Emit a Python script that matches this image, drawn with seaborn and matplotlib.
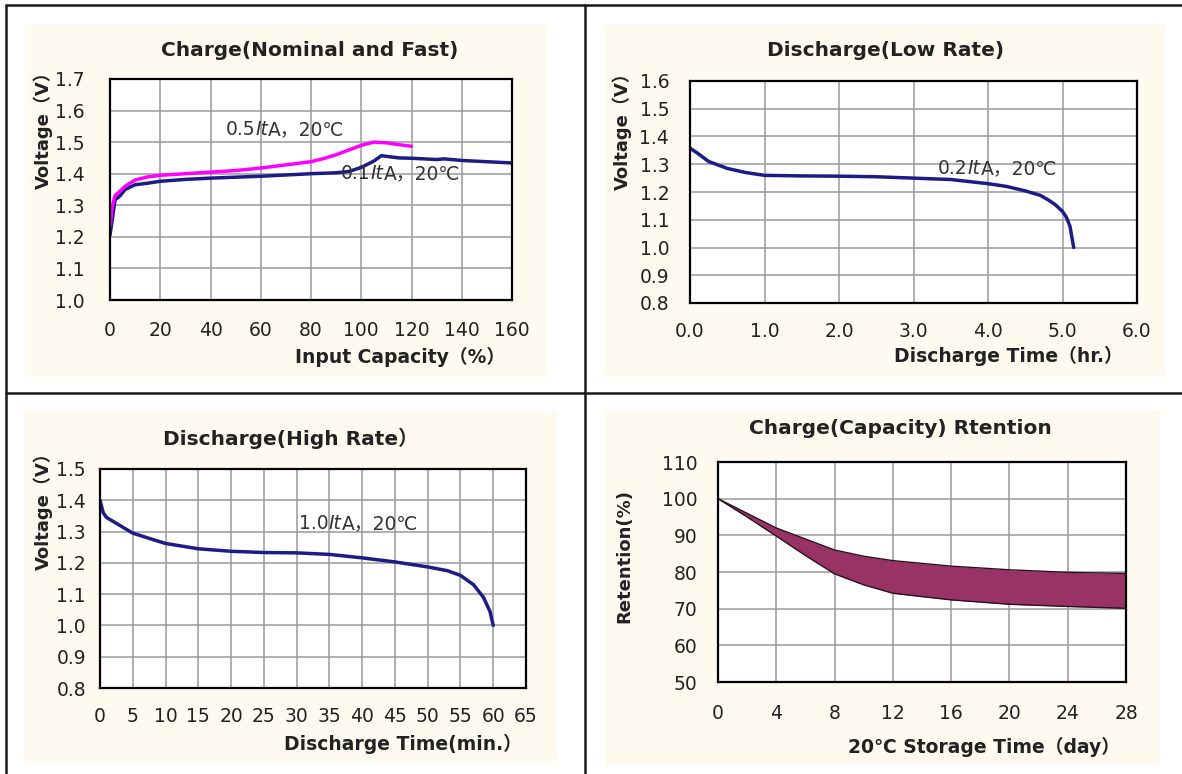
import matplotlib
matplotlib.use("Agg")
import matplotlib.pyplot as plt
from matplotlib.patches import Rectangle
from matplotlib.lines import Line2D
import seaborn as sns

# ---- data ----
# charge: input capacity (%) -> voltage (V)
chg_slow_x = [0, 1, 2, 4, 6, 10, 15, 20, 30, 40, 60, 80, 90, 95, 100, 105, 108, 115, 120, 130, 133, 140, 150, 160]
chg_slow_v = [1.206, 1.26, 1.317, 1.33, 1.35, 1.365, 1.37, 1.376, 1.382, 1.386, 1.392, 1.400, 1.403, 1.407,
              1.420, 1.440, 1.457, 1.450, 1.449, 1.445, 1.447, 1.442, 1.438, 1.434]
chg_fast_x = [0, 1, 2, 4, 6, 10, 15, 20, 30, 40, 50, 60, 70, 80, 85, 90, 95, 100, 105, 110, 115, 120]
chg_fast_v = [1.235, 1.30, 1.33, 1.345, 1.36, 1.38, 1.39, 1.395, 1.40, 1.405, 1.41, 1.418, 1.428, 1.438,
              1.448, 1.46, 1.475, 1.49, 1.50, 1.498, 1.492, 1.487]

# discharge low rate: time (hr) -> voltage
low_t = [0, 0.1, 0.25, 0.5, 0.75, 1.0, 1.5, 2.0, 2.5, 3.0, 3.5, 4.0, 4.25, 4.5, 4.7, 4.8, 4.9, 5.0, 5.05, 5.1, 5.15]
low_v = [1.358, 1.34, 1.31, 1.285, 1.27, 1.26, 1.258, 1.257, 1.255, 1.25, 1.245, 1.23, 1.22, 1.204,
         1.188, 1.173, 1.155, 1.13, 1.11, 1.077, 1.0]

# discharge high rate: time (min) -> voltage
high_t = [0, 0.5, 1, 3, 5, 8, 10, 15, 20, 25, 30, 35, 40, 45, 50, 53, 55, 57, 58.5, 59.5, 60]
high_v = [1.40, 1.36, 1.345, 1.32, 1.295, 1.275, 1.262, 1.245, 1.237, 1.233, 1.232, 1.227, 1.216,
          1.203, 1.187, 1.175, 1.16, 1.13, 1.09, 1.045, 1.0]

# retention band: storage days -> retention (%)
ret_day = [0, 2, 4, 6, 8, 10, 12, 16, 20, 24, 28]
ret_hi = [100, 96, 92, 89, 86, 84.3, 83.1, 81.6, 80.6, 79.9, 79.6]
ret_lo = [100, 95, 89.8, 84.5, 79.5, 76.5, 74.2, 72.4, 71.2, 70.6, 70.1]

# ---- styling ----
sns.set_style("white")
plt.rcParams["font.family"] = ["DejaVu Sans", "Noto Sans CJK SC"]

W, H = 1182, 774
CREAM = "#fffaf0"
NAVY = "#1c1c88"
MAGENTA = "#ff00ff"
TXT = "#222222"

fig = plt.figure(figsize=(W / 100, H / 100), dpi=100)
fig.patch.set_facecolor("white")


def rect(x0, y0, x1, y1):
    return [x0 / W, 1 - y1 / H, (x1 - x0) / W, (y1 - y0) / H]


def ftext(x, y, s, **kw):
    fig.text(x / W, 1 - y / H, s, color=TXT, ha="center", va="center", **kw)


# cream panel backgrounds
for x0, y0, x1, y1 in [(25, 24, 546, 377), (605, 24, 1165, 377),
                       (24, 412, 557, 762), (605, 410, 1160, 765)]:
    fig.add_artist(Rectangle((x0 / W, 1 - y1 / H), (x1 - x0) / W, (y1 - y0) / H,
                             transform=fig.transFigure, facecolor=CREAM,
                             edgecolor="none", zorder=-5))

# table rules
for xs, ys in [((6, 1182), (5, 5)), ((6, 6), (5, 774)),
               ((585, 585), (5, 774)), ((6, 1182), (393, 393))]:
    fig.add_artist(Line2D([x / W for x in xs], [1 - y / H for y in ys],
                          transform=fig.transFigure, color="#1a1a1a", lw=1.8, zorder=-4))


def setup(ax, xlim, xticks, xfmt, ylim, yticks, yfmt, xpad, ypad):
    ax.set_facecolor("white")
    ax.set_xlim(xlim)
    ax.set_ylim(ylim)
    ax.set_xticks(xticks)
    ax.set_yticks(yticks)
    ax.set_xticklabels([xfmt.format(t) for t in xticks])
    ax.set_yticklabels([yfmt.format(t) for t in yticks])
    ax.grid(True, color="#9a9a9a", lw=1.1)
    ax.set_axisbelow(True)
    ax.tick_params(axis="both", direction="in", length=5, width=1.4, color="black",
                   labelsize=13.5, labelcolor=TXT)
    ax.tick_params(axis="x", pad=xpad)
    ax.tick_params(axis="y", pad=ypad)
    for s in ax.spines.values():
        s.set_visible(True)
        s.set_color("black")
        s.set_linewidth(1.6)
    ax.set_xlabel("")
    ax.set_ylabel("")


def label(ax, x, y, parts, size=13.5):
    # chain text pieces so "It" can be italic
    t = ax.text(x, y, parts[0][0], fontsize=size, color="#333333", style=parts[0][1], va="bottom")
    for s, st in parts[1:]:
        t = ax.annotate(s, xy=(1, 0), xycoords=t, fontsize=size, color="#333333",
                        style=st, va="bottom", ha="left")


TITLE = dict(fontsize=14.5, fontweight="bold")
XLAB = dict(fontsize=13.5, fontweight="bold")
YLAB = dict(fontsize=13, fontweight="bold", rotation=90)
LW = 2.5

# ---- panel 1: charge ----
ax1 = fig.add_axes(rect(110, 79, 512, 300))
sns.lineplot(x=chg_slow_x, y=chg_slow_v, ax=ax1, color=NAVY, lw=LW, sort=False, estimator=None)
sns.lineplot(x=chg_fast_x, y=chg_fast_v, ax=ax1, color=MAGENTA, lw=LW, sort=False, estimator=None)
setup(ax1, (0, 160), list(range(0, 161, 20)), "{}", (1.0, 1.7),
      [1.0 + 0.1 * i for i in range(8)], "{:.1f}", 15, 18)
label(ax1, 46, 1.51, [("0.5", "normal"), ("It", "italic"), ("A，20℃", "normal")])
label(ax1, 92, 1.37, [("0.1", "normal"), ("It", "italic"), ("A，20℃", "normal")])
ftext(310, 50, "Charge(Nominal and Fast)", **TITLE)
ftext(400, 357, "Input Capacity（%）", **XLAB)
ftext(43, 126, "Voltage（V）", **YLAB)

# ---- panel 2: discharge low rate ----
ax2 = fig.add_axes(rect(690, 81, 1137, 303))
sns.lineplot(x=low_t, y=low_v, ax=ax2, color=NAVY, lw=LW, sort=False, estimator=None)
setup(ax2, (0, 6), list(range(0, 7)), "{:.1f}", (0.8, 1.6),
      [0.8 + 0.1 * i for i in range(9)], "{:.1f}", 14, 15)
label(ax2, 3.33, 1.25, [("0.2", "normal"), ("It", "italic"), ("A，20℃", "normal")])
ftext(886, 50, "Discharge(Low Rate)", **TITLE)
ftext(1008, 356, "Discharge Time（hr.）", **XLAB)
ftext(622, 127, "Voltage（V）", **YLAB)

# ---- panel 3: discharge high rate ----
ax3 = fig.add_axes(rect(100, 469, 526, 688))
sns.lineplot(x=high_t, y=high_v, ax=ax3, color=NAVY, lw=LW, sort=False, estimator=None)
setup(ax3, (0, 65), list(range(0, 66, 5)), "{}", (0.8, 1.5),
      [0.8 + 0.1 * i for i in range(8)], "{:.1f}", 14, 10)
label(ax3, 30.4, 1.295, [("1.0", "normal"), ("It", "italic"), ("A，20℃", "normal")])
ftext(291, 438, "Discharge(High Rate）", **TITLE)
ftext(403, 744, "Discharge Time(min.）", **XLAB)
ftext(43, 507, "Voltage（V）", **YLAB)

# ---- panel 4: capacity retention ----
ax4 = fig.add_axes(rect(718, 462, 1126, 682))
ax4.fill_between(ret_day, ret_lo, ret_hi, color="#993366", lw=0, zorder=2)
sns.lineplot(x=ret_day, y=ret_hi, ax=ax4, color="#2a1020", lw=1.0, sort=False, estimator=None)
sns.lineplot(x=ret_day, y=ret_lo, ax=ax4, color="#2a1020", lw=1.0, sort=False, estimator=None)
setup(ax4, (0, 28), list(range(0, 29, 4)), "{}", (50, 110),
      list(range(50, 111, 10)), "{}", 16, 15)
ftext(900, 429, "Charge(Capacity) Rtention", **TITLE)
ftext(984, 747, "20℃ Storage Time（day）", **XLAB)
ftext(624, 556, "Retention(%)", **YLAB)

fig.savefig("out.png", dpi=100)
